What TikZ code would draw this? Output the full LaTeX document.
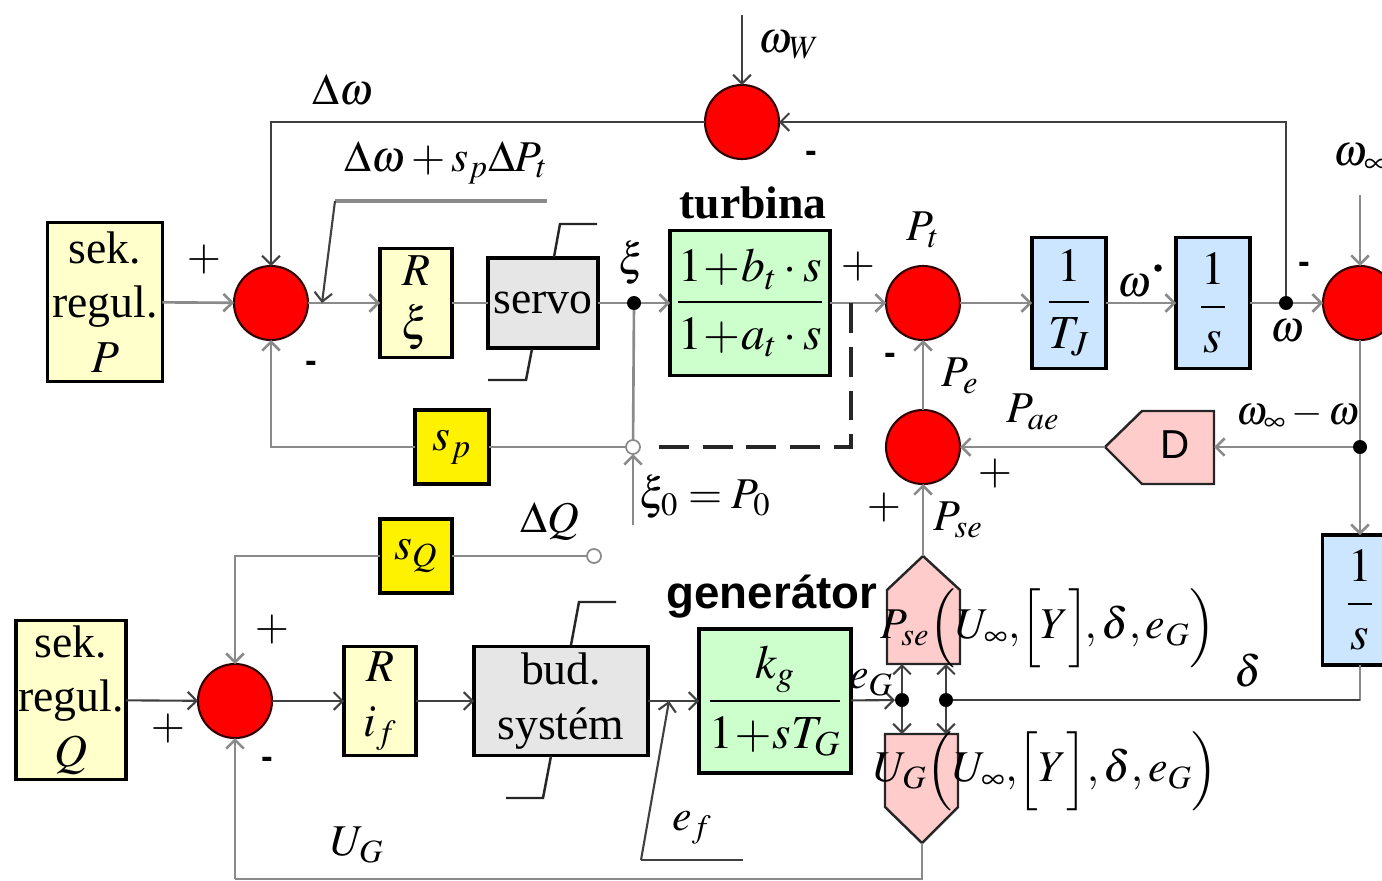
\documentclass[tikz,border=0pt]{standalone}
\usepackage{amsmath}
\usepackage{mathptmx}
\usepackage{fontspec}
\setmainfont{Liberation Serif}
\setsansfont{Liberation Sans}
\usetikzlibrary{arrows.meta}
\definecolor{linegray}{HTML}{8A8A8A}
\definecolor{boxyellow}{HTML}{FFFFCC}
\definecolor{boxgreen}{HTML}{CCFFCC}
\definecolor{boxblue}{HTML}{CCE6FF}
\definecolor{boxgray}{HTML}{E6E6E6}
\definecolor{boxpink}{HTML}{FFCCCC}
\tikzset{
	sumnode/.style={circle,draw=black!80!red,line width=1.2pt,fill=red,minimum size=1.48cm,inner sep=0pt,outer sep=0pt},
	block/.style={draw=black,line width=2pt,inner sep=0pt,outer sep=0pt,align=center,font=\fontsize{26}{31}\selectfont},
	fracblock/.style={block,font=\fontsize{27}{31}\selectfont},
	pinkshape/.style={draw=black!85,line width=1.4pt,fill=boxpink},
	dotnode/.style={circle,fill=black,minimum size=0.28cm,inner sep=0pt,outer sep=0pt},
	opennode/.style={circle,draw=linegray,line width=1pt,fill=white,minimum size=0.28cm,inner sep=0pt,outer sep=0pt},
	lbl/.style={inner sep=0pt,font=\fontsize{25}{30}\selectfont},
	minus/.style={inner sep=0pt,font=\sffamily\bfseries\fontsize{20}{24}\selectfont},
	sig/.style={draw=linegray,line width=1.5pt,>={Straight Barb[length=5pt,width=10pt]}},
	dark/.style={draw=black!75,line width=1.2pt,>={Straight Barb[length=5pt,width=10pt]}},
}
\begin{document}
\begin{tikzpicture}[x=0.02cm,y=-0.02cm]
	\clip (0,0) rectangle (1382,880);
	% sum points
	\node[sumnode] (sumW) at (742,122) {};
	\node[sumnode] (sumP) at (271,303) {};
	\node[sumnode] (sumT) at (923,303) {};
	\node[sumnode] (sumO) at (1360,303) {};
	\node[sumnode] (sumE) at (923,447) {};
	\node[sumnode] (sumQ) at (235,701) {};
	% upper chain
	\node[block,fill=boxyellow,minimum width=2.3cm,minimum height=3.18cm] (sekP) at (105,302) {sek.\\regul.\\$P$};
	\node[block,fill=boxyellow,minimum width=1.44cm,minimum height=2.18cm] (regP) at (416,303) {$R$\\$\xi$};
	\node[block,fill=boxgray,minimum width=2.2cm,minimum height=1.8cm] (servo) at (543,303) {servo};
	\node[fracblock,fill=boxgreen,minimum width=3.2cm,minimum height=2.9cm] (turb) at (750,303) {$\dfrac{1\!+\!b_t\cdot s\rule[-7pt]{0pt}{7pt}}{\rule{0pt}{23pt}1\!+\!a_t\cdot s}$};
	\node[fracblock,fill=boxblue,minimum width=1.48cm,minimum height=2.62cm] (inert) at (1069,303) {$\dfrac{1\rule[-7pt]{0pt}{7pt}}{\rule{0pt}{23pt}T_J}$};
	\node[fracblock,fill=boxblue,minimum width=1.48cm,minimum height=2.62cm] (intO) at (1213,303) {$\dfrac{1\rule[-9pt]{0pt}{9pt}}{\rule{0pt}{22pt}s}$};
	\node[block,fill=yellow,minimum width=1.48cm,minimum height=1.48cm] (gainP) at (452,447) {$s_p$};
	\node[fracblock,fill=boxblue,minimum width=1.5cm,minimum height=2.6cm] (intD) at (1360,600) {$\dfrac{1\rule[-9pt]{0pt}{9pt}}{\rule{0pt}{22pt}s}$};
	% lower chain
	\node[block,fill=yellow,minimum width=1.44cm,minimum height=1.48cm] (gainQ) at (416,556) {$s_Q$};
	\node[block,fill=boxyellow,minimum width=2.2cm,minimum height=3.18cm] (sekQ) at (71,700) {sek.\\regul.\\$Q$};
	\node[block,fill=boxyellow,minimum width=1.44cm,minimum height=2.18cm] (regQ) at (380,701) {$R$\\$i_f$};
	\node[block,fill=boxgray,minimum width=3.48cm,minimum height=2.18cm] (bud) at (561,701) {bud.\\systém};
	\node[fracblock,fill=boxgreen,minimum width=3.04cm,minimum height=2.88cm] (gen) at (775,701) {$\dfrac{k_g\rule[-9pt]{0pt}{9pt}}{\rule{0pt}{23pt}1\!+\!sT_G}$};
	% pink blocks
	\draw[pinkshape] (1105,447) -- (1142,411) -- (1214,411) -- (1214,484) -- (1142,484) -- cycle;
	\node[inner sep=0pt,font=\sffamily\fontsize{23}{26}\selectfont] (damp) at (1175,445) {D};
	\coordinate (dampIn) at (1214,447);
	\coordinate (dampOut) at (1105,447);
	\draw[pinkshape] (923,556) -- (960,590) -- (960,664) -- (887,664) -- (887,590) -- cycle;
	\coordinate (pseTip) at (923,556);
	\coordinate (pseA) at (902,664);
	\coordinate (pseB) at (946,664);
	\draw[pinkshape] (885,734) -- (958,734) -- (958,807) -- (922,843) -- (885,807) -- cycle;
	\coordinate (ugTip) at (922,843);
	\coordinate (ugA) at (902,734);
	\coordinate (ugB) at (946,734);
	% branch points
	\node[dotnode] (dotXi) at (634,303) {};
	\node[dotnode] (dotOm) at (1286,303) {};
	\node[dotnode] (dotDf) at (1360,447) {};
	\node[dotnode] (dotG) at (902,700) {};
	\node[dotnode] (dotD) at (946,700) {};
	\node[opennode] (openP) at (633,447) {};
	\node[opennode] (openQ) at (594,556) {};
	% free ends
	\coordinate (omW) at (742,15);
	\coordinate (omInf) at (1360,195);
	\coordinate (xiIn) at (633,525);
	\coordinate (turbT) at (851,303);
	\coordinate (cornD) at (851,447);
	\coordinate (dashEnd) at (657,447);
	\coordinate (botC) at (922,879);
	\coordinate (botQ) at (235,879);
	\coordinate (noteA) at (547,201);
	\coordinate (noteB) at (335,201);
	\coordinate (noteC) at (322,303);
	\coordinate (efA) at (743,860);
	\coordinate (efB) at (641,860);
	\coordinate (efC) at (669,701);
	% connectors
	\draw[dark,->] (omW) -- (sumW);
	\draw[dark,->] (dotOm) |- (sumW.east);
	\draw[dark,->] (sumW.west) -| (sumP.north);
	\draw[sig,->] (sekP) -- (sumP);
	\draw[sig,->] (sumP) -- (regP);
	\draw[sig] (regP) -- (servo);
	\draw[sig] (servo) -- (dotXi);
	\draw[sig,->] (dotXi) -- (turb);
	\draw[sig] (dotXi) -- (openP);
	\draw[sig] (openP) -- (gainP);
	\draw[sig,->] (gainP) -| (sumP.south);
	\draw[sig,->] (xiIn) -- (openP);
	\draw[sig,->] (turb) -- (sumT);
	\draw[black!85,line width=2pt,dash pattern=on 17pt off 7.9pt] (turbT) -- (cornD) -- (dashEnd);
	\draw[sig,->] (sumT) -- (inert);
	\draw[sig,->] (inert) -- (intO);
	\draw[sig] (intO) -- (dotOm);
	\draw[sig,->] (dotOm) -- (sumO);
	\draw[sig,->] (omInf) -- (sumO);
	\draw[sig] (sumO) -- (dotDf);
	\draw[sig,->] (dotDf) -- (intD);
	\draw[sig,->] (dotDf) -- (dampIn);
	\draw[sig,->] (dampOut) -- (sumE);
	\draw[sig,->] (sumE) -- (sumT);
	\draw[sig,->] (pseTip) -- (sumE);
	\draw[sig] (intD.south) |- (dotD);
	\draw[dark] (dotD) -- (1360,700);
	\draw[dark,->] (gen) -- (dotG);
	\draw[dark,->] (dotG) -- (pseA);
	\draw[dark,->] (dotG) -- (ugA);
	\draw[dark,->] (dotD) -- (pseB);
	\draw[dark,->] (dotD) -- (ugB);
	\draw[sig] (ugTip) -- (botC) -- (botQ);
	\draw[sig,->] (botQ) -- (sumQ);
	\draw[sig] (openQ) -- (gainQ);
	\draw[sig,->] (gainQ) -| (sumQ.north);
	\draw[dark,->] (sekQ) -- (sumQ);
	\draw[dark,->] (sumQ) -- (regQ);
	\draw[dark,->] (regQ) -- (bud);
	\draw[dark,->] (bud) -- (gen);
	\draw[linegray,line width=1.8pt] (noteA) -- (noteB);
	\draw[dark,->] (noteB) -- (noteC);
	\draw[dark] (efA) -- (efB);
	\draw[dark,->] (efB) -- (efC);
	% limiters
	\draw[black!85,line width=1.4pt] (554,257) -- (560,224) -- (597,224);
	\draw[black!85,line width=1.4pt] (532,349) -- (526,380) -- (488,380);
	\draw[black!85,line width=1.4pt] (571,645) -- (579,602) -- (616,602);
	\draw[black!85,line width=1.4pt] (551,756) -- (543,798) -- (506,798);
	% labels
	\node[lbl] (lDw) at (343,90) {$\Delta\omega$};
	\node[lbl] (lOmW) at (789,45) {$\omega_W$};
	\node[lbl] (lNote) at (446,163) {$\Delta\omega+s_p\Delta P_t$};
	\node[lbl] (lXi) at (632,263) {$\xi$};
	\node[lbl,font=\bfseries\fontsize{26}{30}\selectfont] (lTurb) at (753,203) {turbina};
	\node[lbl] (lPt) at (923,230) {$P_t$};
	\node[lbl] (lOmDot) at (1134,286) {$\omega$};
	\node[dotnode,minimum size=0.15cm] (lDot) at (1158,268) {};
	\node[lbl] (lOm) at (1287,331) {$\omega$};
	\node[lbl] (lOmInf) at (1361,158) {$\omega_\infty$};
	\node[lbl] (lPe) at (960,376) {$P_e$};
	\node[lbl] (lPae) at (1033,412) {$P_{ae}$};
	\node[lbl,font=\fontsize{23}{28}\selectfont] (lDiff) at (1298,416) {$\omega_\infty-\omega$};
	\node[lbl] (lXi0) at (705,497) {$\xi_0=P_0$};
	\node[lbl] (lPse) at (958,520) {$P_{se}$};
	\node[lbl] (lDQ) at (550,521) {$\Delta Q$};
	\node[lbl,font=\sffamily\bfseries\fontsize{26}{30}\selectfont] (lGen) at (772,597) {generátor};
	\node[lbl] (lEg) at (871,683) {$e_G$};
	\node[lbl] (lDelta) at (1248,671) {$\delta$};
	\node[lbl] (lUg) at (357,845) {$U_G$};
	\node[lbl] (lEf) at (692,828) {$e_f$};
	\node[lbl] (lPseF) at (1048,628) {$P_{se}\Bigl(U_\infty,\!\Bigl[Y\Bigr]\!,\delta,e_G\Bigr)$};
	\node[lbl] (lUgF) at (1046,771) {$U_G\Bigl(U_\infty,\!\Bigl[Y\Bigr],\delta,e_G\Bigr)$};
	% signs
	\node[lbl] (plusA) at (204,260) {$+$};
	\node[lbl] (plusB) at (858,267) {$+$};
	\node[lbl] (plusC) at (995,474) {$+$};
	\node[lbl] (plusD) at (884,508) {$+$};
	\node[lbl] (plusE) at (272,630) {$+$};
	\node[lbl] (plusF) at (168,729) {$+$};
	\node[minus] (minA) at (811,157) {-};
	\node[minus] (minB) at (311,367) {-};
	\node[minus] (minC) at (890,359) {-};
	\node[minus] (minD) at (1304,268) {-};
	\node[minus] (minE) at (267,763) {-};
\end{tikzpicture}
\end{document}
